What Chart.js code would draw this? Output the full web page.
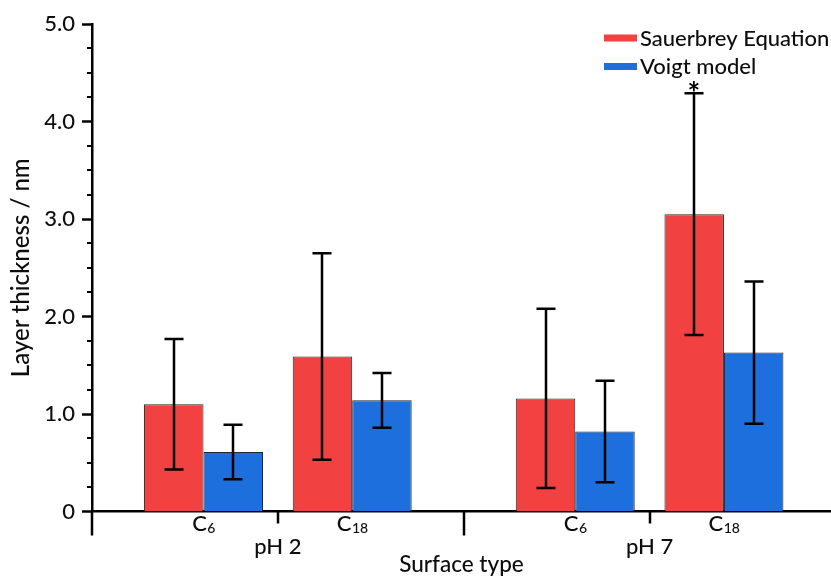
<!DOCTYPE html>
<html>
<head>
<meta charset="utf-8">
<title>Layer thickness by surface type</title>
<script src="https://cdn.jsdelivr.net/npm/chart.js@4/dist/chart.umd.min.js"></script>
<style>
  html, body { margin: 0; padding: 0; background: #ffffff; }
  #wrap { width: 831px; height: 582px; }
</style>
</head>
<body>
<div id="wrap"><canvas id="chart" width="831" height="582"></canvas></div>
<script>
// Groups along the x axis and the surfaces inside each group (base letter + subscript)
const groups = ['pH 2', 'pH 7'];
const surfaces = [['C', '6'], ['C', '18']];

// Series names
const seriesNames = ['Sauerbrey Equation', 'Voigt model'];

// Layer thickness in nm, ordered pH 2 C6, pH 2 C18, pH 7 C6, pH 7 C18
const sauerbrey = [1.10, 1.59, 1.16, 3.05];
const sauerbreyErr = [0.67, 1.06, 0.92, 1.24];
const voigt = [0.61, 1.14, 0.82, 1.63];
const voigtErr = [0.28, 0.28, 0.52, 0.73];

// Significance markers above the error bars
const sauerbreyMarks = ['', '', '', '*'];
const voigtMarks = ['', '', '', ''];

// Y axis tick values
const yTicks = [0, 1, 2, 3, 4, 5];

const FONT = 'Lato';
const WEIGHT = '500';
const TEXT = '#0d0d0d';
const RED = '#F24141';
const BLUE = '#1C6FDD';
const EDGE = '#262626';

// Slot positions: half a slot of spacing between groups
const GROUP_STEP = surfaces.length + 0.5;
const slots = groups.flatMap((g, gi) => surfaces.map((s, si) => gi * GROUP_STEP + si));
const groupCenter = gi => gi * GROUP_STEP + (surfaces.length - 1) / 2;
const groupHalf = GROUP_STEP / 2;

function points(values) {
  return values.map((v, i) => ({ x: slots[i], y: v }));
}

// Boundaries between groups and between surfaces, used as x ticks
const groupEdges = [];
const surfaceEdges = [];
groups.forEach((g, gi) => {
  groupEdges.push(groupCenter(gi) - groupHalf);
  for (let si = 0; si < surfaces.length - 1; si++) surfaceEdges.push(gi * GROUP_STEP + si + 0.5);
});

const font = size => `${WEIGHT} ${size}px ${FONT}`;

const decor = {
  id: 'decor',
  afterDatasetsDraw(chart) {
    const { ctx, scales: { y } } = chart;
    ctx.save();
    ctx.strokeStyle = '#000';
    ctx.lineWidth = 2.5;
    chart.data.datasets.forEach((ds, di) => {
      const meta = chart.getDatasetMeta(di);
      meta.data.forEach((bar, i) => {
        const v = ds.data[i].y;
        const e = ds.errors[i];
        const top = y.getPixelForValue(v + e);
        const bot = y.getPixelForValue(v - e);
        const cx = Math.round(bar.x);
        ctx.beginPath();
        ctx.moveTo(cx, top); ctx.lineTo(cx, bot);
        ctx.moveTo(cx - 9.5, top); ctx.lineTo(cx + 9.5, top);
        ctx.moveTo(cx - 9.5, bot); ctx.lineTo(cx + 9.5, bot);
        ctx.stroke();
        const mark = ds.marks[i];
        if (mark) {
          ctx.font = `bold 30px ${FONT}`;
          ctx.fillStyle = '#000';
          ctx.textAlign = 'center';
          ctx.textBaseline = 'alphabetic';
          const m = ctx.measureText(mark);
          const glyphMid = (m.actualBoundingBoxAscent - m.actualBoundingBoxDescent) / 2;
          ctx.fillText(mark, cx, top - 6.5 + glyphMid);
        }
      });
    });
    ctx.restore();
  },
  afterDraw(chart) {
    const { ctx, chartArea, scales: { x, y } } = chart;
    const base = chartArea.bottom;
    ctx.save();
    ctx.strokeStyle = '#000';

    // minor ticks on the y axis
    ctx.lineWidth = 2;
    ctx.beginPath();
    for (let v = 0.25; v < 5; v += 0.25) {
      if (Math.abs(v - Math.round(v)) < 1e-6) continue;
      const py = Math.round(y.getPixelForValue(v));
      ctx.moveTo(chartArea.left - 5, py);
      ctx.lineTo(chartArea.left, py);
    }
    ctx.stroke();

    // group and surface separators below the x axis
    ctx.lineWidth = 2.5;
    ctx.beginPath();
    groupEdges.forEach(v => {
      const px = Math.round(x.getPixelForValue(v));
      ctx.moveTo(px, base); ctx.lineTo(px, base + 24);
    });
    surfaceEdges.forEach(v => {
      const px = Math.round(x.getPixelForValue(v));
      ctx.moveTo(px, base); ctx.lineTo(px, base + 12);
    });
    ctx.stroke();

    // surface labels with subscripts
    ctx.fillStyle = TEXT;
    ctx.textBaseline = 'alphabetic';
    ctx.textAlign = 'left';
    slots.forEach((slot, i) => {
      const [letter, sub] = surfaces[i % surfaces.length];
      const cx = x.getPixelForValue(slot);
      ctx.font = font(22);
      const w1 = ctx.measureText(letter).width;
      ctx.font = font(14);
      const w2 = ctx.measureText(sub).width;
      const start = cx - (w1 + w2) / 2;
      ctx.font = font(22);
      ctx.fillText(letter, start, base + 19.5);
      ctx.font = font(14);
      ctx.fillText(sub, start + w1 + 0.5, base + 21.5);
    });

    // group labels
    ctx.font = font(22);
    ctx.textAlign = 'center';
    groups.forEach((g, gi) => {
      ctx.fillText(g, x.getPixelForValue(groupCenter(gi)), base + 42);
    });

    // legend in the upper right corner
    const rows = [38, 66.5];
    chart.data.datasets.forEach((ds, di) => {
      const cy = rows[di];
      ctx.fillStyle = ds.backgroundColor;
      ctx.fillRect(604, cy - 3.5, 33, 7);
      ctx.fillStyle = TEXT;
      ctx.textAlign = 'left';
      ctx.font = font(22);
      ctx.fillText(ds.label, 640, cy + 7.5);
    });
    ctx.restore();
  }
};

function build() {
  new Chart(document.getElementById('chart'), {
    type: 'bar',
    data: {
      datasets: [
        {
          label: seriesNames[0],
          data: points(sauerbrey),
          errors: sauerbreyErr,
          marks: sauerbreyMarks,
          backgroundColor: RED,
          borderColor: EDGE,
          borderWidth: 1
        },
        {
          label: seriesNames[1],
          data: points(voigt),
          errors: voigtErr,
          marks: voigtMarks,
          backgroundColor: BLUE,
          borderColor: EDGE,
          borderWidth: 1
        }
      ]
    },
    options: {
      responsive: false,
      animation: false,
      events: [],
      devicePixelRatio: 1,
      categoryPercentage: 0.8,
      barPercentage: 1.0,
      layout: { padding: { top: 24, left: 0, right: 0, bottom: 0 } },
      plugins: {
        legend: { display: false },
        tooltip: { enabled: false }
      },
      scales: {
        x: {
          type: 'linear',
          offset: false,
          min: groupCenter(0) - groupHalf,
          max: groupCenter(groups.length - 1) + groupHalf - 0.03,
          afterBuildTicks: s => { s.ticks = groupEdges.concat(surfaceEdges).sort((a, b) => a - b).map(v => ({ value: v })); },
          afterFit: s => { s.height = 70.5; },
          grid: { display: false, offset: false },
          border: { display: true, color: '#000', width: 2.5 },
          ticks: { display: false },
          title: {
            display: true,
            text: 'Surface type',
            color: TEXT,
            font: { family: FONT, size: 22.5, weight: WEIGHT },
            padding: { top: 0, bottom: 4 }
          }
        },
        y: {
          min: 0,
          max: 5,
          afterBuildTicks: s => { s.ticks = yTicks.map(v => ({ value: v })); },
          afterFit: s => { s.width = 92; },
          grid: {
            display: true,
            drawOnChartArea: false,
            drawTicks: true,
            tickLength: 10,
            tickWidth: 2.5,
            tickColor: '#000',
            color: '#000'
          },
          border: { display: true, color: '#000', width: 2.5 },
          ticks: {
            padding: 7,
            color: TEXT,
            font: { family: FONT, size: 22, weight: WEIGHT },
            callback: v => (v === 0 ? '0' : Number(v).toFixed(1))
          },
          title: {
            display: true,
            text: 'Layer thickness / nm',
            color: TEXT,
            font: { family: FONT, size: 24, weight: WEIGHT },
            padding: { top: 7, bottom: 0 }
          }
        }
      }
    },
    plugins: [decor]
  });
}

if (document.fonts && document.fonts.load) {
  Promise.all([document.fonts.load(font(22)), document.fonts.load(font(14)), document.fonts.load(`bold 30px ${FONT}`)])
    .then(build, build);
} else {
  build();
}
</script>
</body>
</html>
